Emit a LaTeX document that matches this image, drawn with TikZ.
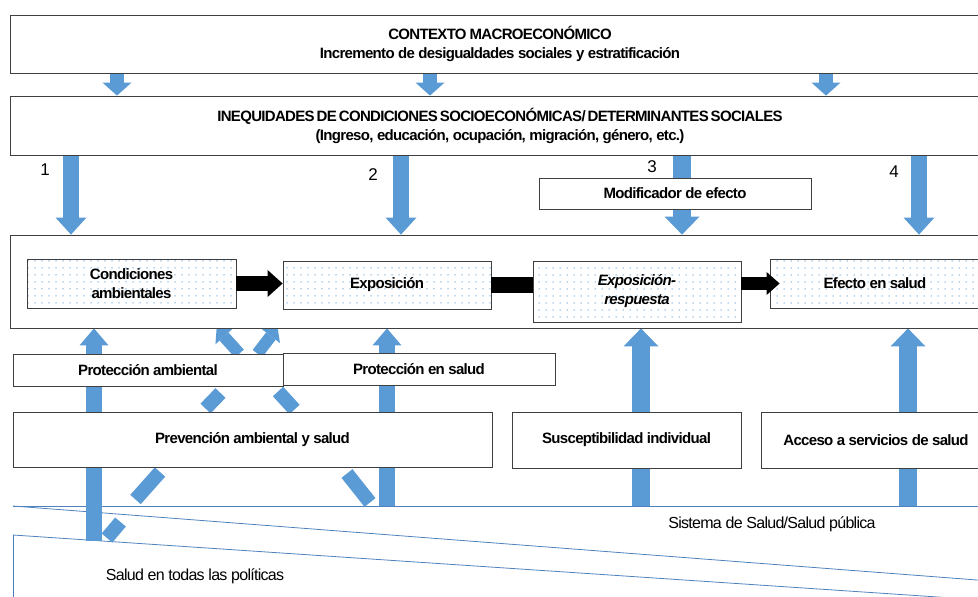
\documentclass[tikz,border=0pt]{standalone}
\usepackage{fontspec}
\setmainfont{Liberation Sans}[LetterSpace=-4.5]
\usetikzlibrary{arrows.meta, calc, patterns.meta, backgrounds}
\definecolor{arrblue}{HTML}{5B9BD5}
\definecolor{lineblue}{HTML}{4F81BD}
\definecolor{boxedge}{HTML}{3F3F3F}
\definecolor{dotblue}{HTML}{7FAEDD}
\newcommand{\capsline}[1]{{\spaceskip=3pt\relax #1}}

\begin{document}
\begin{tikzpicture}[
  x=1pt, y=-1pt,
  plainbox/.style={draw=boxedge, line width=0.8pt, fill=white, align=center,
                   inner sep=0pt, font=\bfseries\fontsize{15}{19}\selectfont},
  dotbox/.style={plainbox, preaction={fill=white},
                 pattern={Dots[distance=7pt, radius=0.75pt]}, pattern color=dotblue},
  numlabel/.style={font=\fontsize{17}{17}\selectfont},
  arealabel/.style={font=\fontsize{16}{16}\selectfont},
  sysline/.style={draw=lineblue, line width=0.8pt},
  toparr/.style={draw=arrblue, line width=14pt, -{Triangle[width=29pt, length=13pt, line width=0pt]}},
  dnarr/.style={draw=arrblue, line width=16pt, -{Triangle[width=31pt, length=17pt, line width=0pt]}},
  uparr/.style={draw=arrblue, line width=16pt, -{Triangle[width=29pt, length=17pt, line width=0pt]}},
  widearr/.style={draw=arrblue, line width=18pt, -{Triangle[width=35pt, length=18pt, line width=0pt]}},
  diagarr/.style={draw=arrblue, line width=12pt, -{Triangle[width=23pt, length=11pt, line width=0pt]}},
  bluebar/.style={draw=arrblue, line width=14pt},
  blackarr/.style={draw=black, line width=15pt, -{Triangle[width=27pt, length=15pt, line width=0pt]}}
]
\useasboundingbox (0,0) rectangle (978,597);

% contexto y determinantes
\node[plainbox, minimum width=980pt, minimum height=58pt] (ctx) at (500,44)
  {\capsline{CONTEXTO MACROECONÓMICO}\\Incremento de desigualdades sociales y estratificación};
\node[plainbox, minimum width=980pt, minimum height=59pt] (ineq) at (500,125.5)
  {{\spaceskip=2pt\relax INEQUIDADES DE CONDICIONES SOCIOECONÓMICAS/ DETERMINANTES SOCIALES}\\
   (Ingreso, educación, ocupación, migración, género, etc.)};
\node[plainbox, minimum width=272pt, minimum height=31pt] (modif) at (675,193.5) {Modificador de efecto};

% cadena central
\node[plainbox, minimum width=980pt, minimum height=93pt] (main) at (500,281.5) {};
\node[dotbox, minimum width=209pt, minimum height=49pt] (cond) at (131.5,283.5) {Condiciones\\ambientales};
\node[dotbox, minimum width=208pt, minimum height=48pt] (expo) at (387,285) {Exposición};
\node[dotbox, minimum width=208pt, minimum height=61pt] (expresp) at (637,291.5)
  {\itshape Exposición-\\\itshape respuesta};
\node[dotbox, minimum width=210pt, minimum height=49pt] (efecto) at (875,283.5) {Efecto en salud};

% protección y prevención
\node[plainbox, minimum width=270pt, minimum height=32pt] (protamb) at (148,370) {Protección ambiental};
\node[plainbox, minimum width=272pt, minimum height=32pt] (protsal) at (419,369) {Protección en salud};
\node[plainbox, minimum width=479pt, minimum height=55pt] (prev) at (252.5,439.5) {Prevención ambiental y salud};
\node[plainbox, minimum width=229pt, minimum height=56pt] (susc) at (626.5,440) {Susceptibilidad individual};
\node[plainbox, minimum width=230pt, minimum height=56pt] (acceso) at (876,440) {Acceso a servicios de salud};

% numeros
\node[numlabel] (n1) at (45,170) {1};
\node[numlabel] (n2) at (373,175) {2};
\node[numlabel] (n3) at (652,167) {3};
\node[numlabel] (n4) at (894,172) {4};

% sistema de salud / salud en todas las politicas
\coordinate (sysnw) at (13,506);
\coordinate (polnw) at (13,535);
\node[arealabel] (sistema) at (772,524) {Sistema de Salud/Salud pública};
\node[arealabel] (politicas) at (195,576) {Salud en todas las políticas};

% columnas de flechas
\foreach \name/\xx in {t1/117, t2/430, t3/826, c1/71, c2/401, c3/682, c4/919,
                       u1/94, u2/387, u3/641, u4/908}
  \coordinate (\name) at (\xx,0);
\coordinate (polbase) at (94,541);

\begin{scope}[on background layer]
  \draw[sysline] (sysnw) -- ++(977,0);
  \draw[sysline] (sysnw) -- ++(977,75);
  \draw[sysline] (polnw) -- ++(977,65.5);
  \draw[sysline] (polnw) -- ++(0,70);

  \foreach \c in {t1,t2,t3}
    \draw[toparr] (ctx.south -| \c) -- (ineq.north -| \c);
  \foreach \c in {c1,c2,c4}
    \draw[dnarr] (ineq.south -| \c) -- (main.north -| \c);
  \draw[draw=arrblue, line width=18pt] (ineq.south -| c3) -- (modif.north -| c3);
  \draw[widearr] (modif.south -| c3) -- (main.north -| c3);

  \draw[uparr] (polbase) -- (main.south -| polbase);
  \draw[uparr] (sysnw -| u2) -- (main.south -| u2);
  \draw[widearr] (sysnw -| u3) -- (main.south -| u3);
  \draw[widearr] (sysnw -| u4) -- (main.south -| u4);

  \draw[diagarr] ($(protamb.north east)+(-44,0)$) -- ($(main.south west)+(207,0)$);
  \draw[diagarr] ($(protamb.north east)+(-26,0)$) -- ($(main.south west)+(268,-1)$);

  \foreach \a/\b in {{220.5,393}/{205.5,408.5}, {278,391.5}/{294.5,409.5},
                     {160,472}/{135.5,499.5}, {120.5,522}/{107,538},
                     {347,473.5}/{370,502.5}}
    \draw[bluebar] (\a) -- (\b);
\end{scope}

% flechas de la cadena
\draw[blackarr] (cond.east) -- (cond.east -| expo.west);
\draw[draw=black, line width=16pt] (expo.east) -- (expo.east -| expresp.west);
\draw[blackarr, line width=13pt, -{Triangle[width=23pt, length=13pt, line width=0pt]}]
  (expresp.east |- efecto.west) -- ([xshift=10pt]efecto.west);
\end{tikzpicture}
\end{document}
